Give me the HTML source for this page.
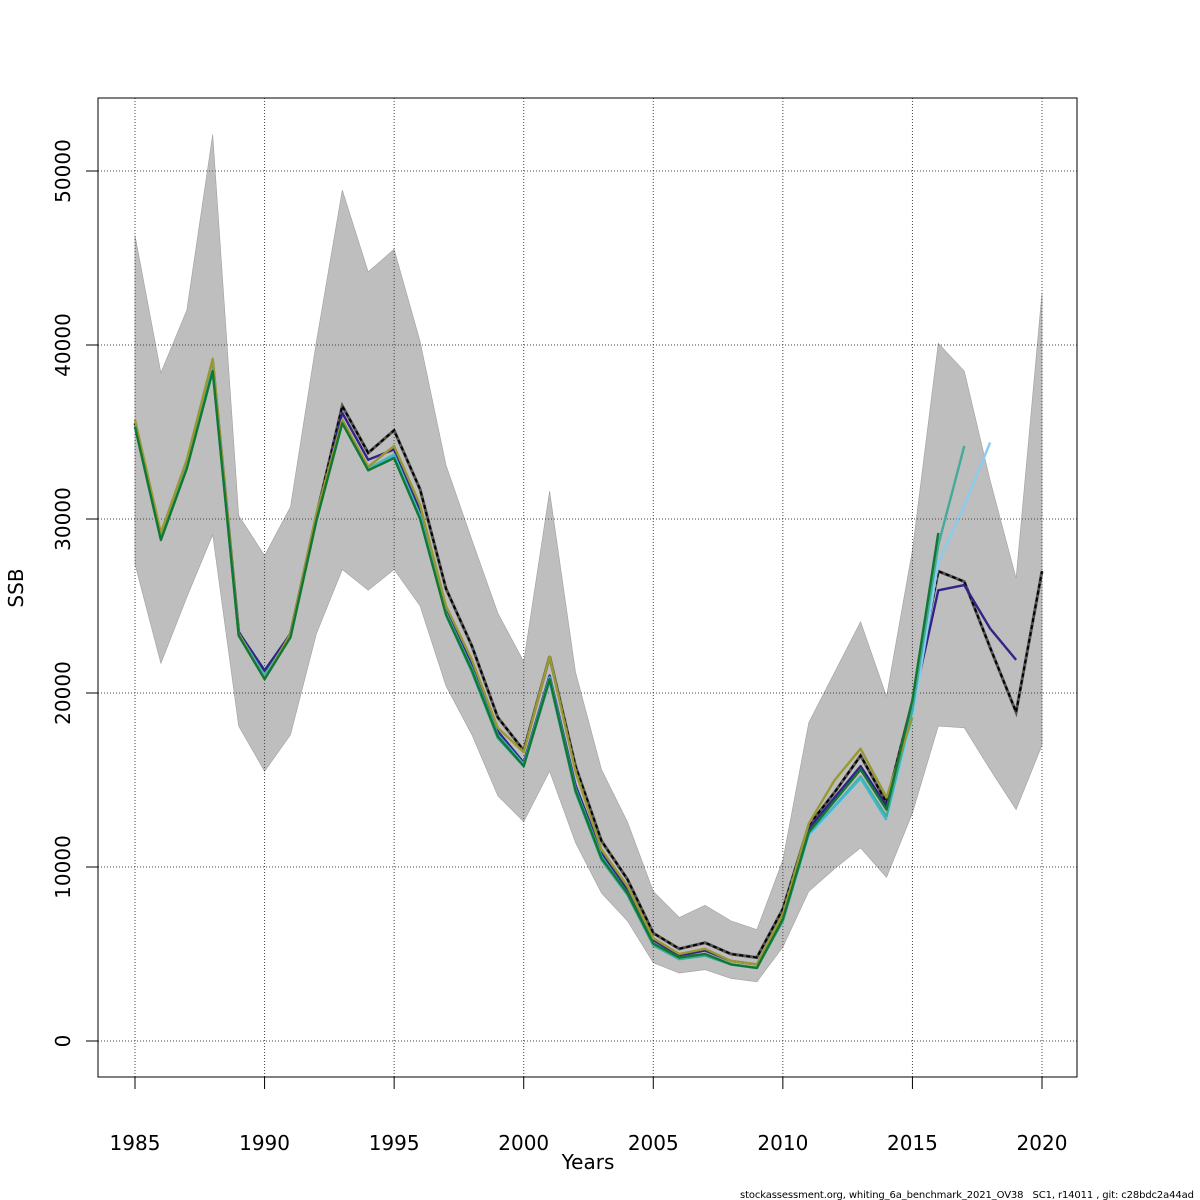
<!DOCTYPE html>
<html><head><meta charset="utf-8"><style>
body{margin:0;background:#fff;}
svg{display:block;font-family:"DejaVu Sans","Liberation Sans",sans-serif;}
</style></head><body>
<svg id="chart" width="1200" height="1200" viewBox="0 0 1200 1200" xmlns="http://www.w3.org/2000/svg"></svg>
<script>
const years=[1985,1986,1987,1988,1989,1990,1991,1992,1993,1994,1995,1996,1997,1998,1999,2000,2001,2002,2003,2004,2005,2006,2007,2008,2009,2010,2011,2012,2013,2014,2015,2016,2017,2018,2019,2020];
const upper=[46300,38400,42000,52100,30200,27900,30700,40200,48900,44200,45500,40200,33100,28800,24600,21800,31600,21200,15600,12600,8600,7100,7800,6900,6400,10400,18300,21200,24100,19800,28200,40100,38500,32200,26600,43000];
const lower=[27400,21700,25500,29100,18100,15500,17600,23400,27100,25900,27100,25000,20400,17600,14100,12600,15500,11400,8500,6900,4500,3900,4100,3600,3400,5400,8600,9900,11100,9400,13100,18100,18000,15600,13300,17000];
const mainRun=[35500,29000,33200,39000,23500,21000,23400,30200,36500,33800,35100,31700,26000,22700,18600,16700,22100,15800,11500,9300,6200,5300,5650,5000,4800,7600,12400,14300,16400,13700,19500,27000,26400,22600,18900,27000];
const retro2019=[35400,28900,33000,38700,23500,21300,23400,30000,36100,33400,34000,30500,24800,21600,17800,16000,21000,14700,10800,8700,5800,4900,5200,4600,4400,7200,12200,14000,15800,13500,19200,25900,26200,23700,21900];
const retro2018=[35300,28800,32900,38500,23300,21000,23200,29900,35600,32800,33600,30100,24500,21200,17400,15800,20700,14300,10400,8400,5500,4700,4900,4400,4200,6900,11800,13400,15100,12800,18500,27500,30800,34400];
const retro2017=[35300,28800,32900,38500,23300,21000,23200,29900,35600,32800,33600,30100,24500,21200,17400,15800,20700,14300,10400,8400,5500,4700,4900,4400,4200,6900,11900,13500,15200,12900,19000,28500,34200];
const retro2016=[35300,28800,32900,38500,23300,20800,23200,29900,35500,32800,33500,30000,24500,21300,17500,15800,20800,14400,10500,8500,5600,4800,5000,4400,4200,7000,12000,13800,15600,13300,19600,29200];
const retro2015=[35700,29200,33400,39200,23400,20800,23400,30300,35700,33000,34200,30800,25000,21900,18000,16600,22100,15500,11000,8900,5900,5000,5300,4600,4400,7300,12500,15000,16800,14000,18600];
const retro2014=[35400,28900,33000,38700,23400,21000,23300,30000,35700,32900,33700,30200,24600,21400,17600,15900,20900,14500,10600,8500,5600,4800,5000,4400,4200,7000,11900,13500,15100,12700];
const xTicks=[1985,1990,1995,2000,2005,2010,2015,2020];
const yTicks=[0,10000,20000,30000,40000,50000];
const footer="stockassessment.org, whiting_6a_benchmark_2021_OV38   SC1, r14011 , git: c28bdc2a44ad";

const NS="http://www.w3.org/2000/svg";
const svg=document.getElementById('chart');
const X=y=>135+(y-1985)*(907/35);
const Y=v=>1041-v*0.0174;
function mk(tag,attrs,parent){const e=document.createElementNS(NS,tag);for(const k in attrs)e.setAttribute(k,attrs[k]);(parent||svg).appendChild(e);return e;}
function pts(arr){return arr.map((v,i)=>X(years[i]).toFixed(1)+','+Y(v).toFixed(1)).join(' ');}

let bandPts=upper.map((v,i)=>X(years[i]).toFixed(1)+','+Y(v).toFixed(1));
for(let i=lower.length-1;i>=0;i--)bandPts.push(X(years[i]).toFixed(1)+','+Y(lower[i]).toFixed(1));
const band=mk('polygon',{points:bandPts.join(' '),fill:'#bebebe',stroke:'#a0a0a0','stroke-width':0.6});



xTicks.forEach(t=>{const l=mk('line',{x1:X(t),x2:X(t),y1:98,y2:1077,stroke:'#444','stroke-width':1,'stroke-dasharray':'1,2'});

});
yTicks.forEach(t=>{const l=mk('line',{x1:98,x2:1077,y1:Y(t),y2:Y(t),stroke:'#444','stroke-width':1,'stroke-dasharray':'1,2'});

});

// main run (drawn first, under retro lines)
const mw=mk('polyline',{points:pts(mainRun),fill:'none',stroke:'#555','stroke-width':3});


const mr=mk('polyline',{points:pts(mainRun),fill:'none',stroke:'#000','stroke-width':2,'stroke-dasharray':'4,3'});



const series=[[retro2019,'#332288'],[retro2018,'#88CCEE'],[retro2017,'#44AA99'],[retro2014,'#3fb8c8'],[retro2015,'#999933'],[retro2016,'#117733']];
series.forEach(s=>{const p=mk('polyline',{points:pts(s[0]),fill:'none',stroke:s[1],'stroke-width':2.4,'stroke-linejoin':'round'});

});

const box=mk('rect',{x:98,y:98,width:979,height:979,fill:'none',stroke:'#000','stroke-width':1});



xTicks.forEach(t=>{const l=mk('line',{x1:X(t),x2:X(t),y1:1077,y2:1089,stroke:'#000'});


const tx=mk('text',{x:X(t),y:1150,'text-anchor':'middle','font-size':20});tx.textContent=t;

});
yTicks.forEach(t=>{const l=mk('line',{x1:86,x2:98,y1:Y(t),y2:Y(t),stroke:'#000'});


const tx=mk('text',{x:0,y:0,'text-anchor':'middle','font-size':20,transform:`translate(70,${Y(t)}) rotate(-90)`});tx.textContent=t;

});

const xt=mk('text',{x:588,y:1169,'text-anchor':'middle','font-size':20});xt.textContent='Years';


const yt=mk('text',{x:0,y:0,'text-anchor':'middle','font-size':20,transform:'translate(23,588) rotate(-90)'});yt.textContent='SSB';


const ft=mk('text',{x:740,y:1198,'font-size':10,'textLength':454,'lengthAdjust':'spacing','xml:space':'preserve'});ft.textContent=footer;
ft.setAttribute('style','white-space:pre');


</script>
</body></html>
